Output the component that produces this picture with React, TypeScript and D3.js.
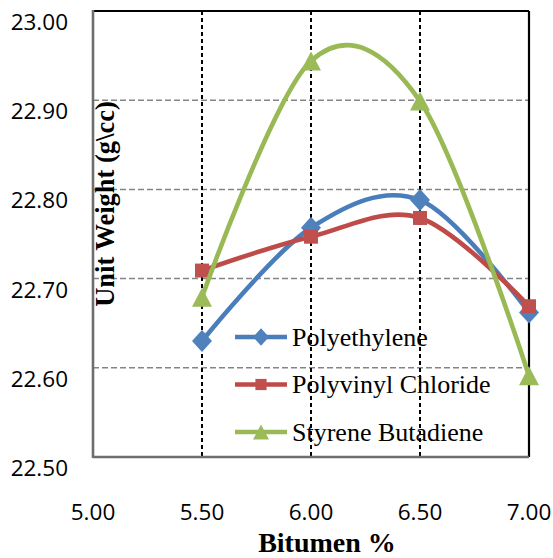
import React from "react";
import * as d3 from "d3";

const bitumen = [5.5, 6.0, 6.5, 7.0];
const polyethylene = [22.63, 22.757, 22.788, 22.662];
const polyvinylChloride = [22.709, 22.747, 22.768, 22.669];
const styreneButadiene = [22.679, 22.944, 22.899, 22.591];
const seriesNames = ["Polyethylene", "Polyvinyl Chloride", "Styrene Butadiene"];
const xTicks = [5.0, 5.5, 6.0, 6.5, 7.0];
const yTicks = [22.5, 22.6, 22.7, 22.8, 22.9, 23.0];

const W = 553;
const H = 558;
const L = 93, R = 529, T = 11, B = 457;

const colors = ["#4A7EBB", "#BE4B48", "#98B954"];
const markerFill = ["#4F81BD", "#C0504D", "#9BBB59"];
const markers = ["diamond", "square", "triangle"];

function Marker({ type, cx, cy, fill, scale = 1 }: any) {
  if (type === "diamond") {
    const w = 10 * scale, h = 11 * scale;
    return <path d={`M${cx},${cy - h}L${cx + w},${cy}L${cx},${cy + h}L${cx - w},${cy}Z`} fill={fill} />;
  }
  if (type === "square") {
    const s = 7 * scale;
    return <rect x={cx - s} y={cy - s} width={2 * s} height={2 * s} fill={fill} />;
  }
  const w = 10 * scale, h = 9.5 * scale;
  return <path d={`M${cx},${cy - h}L${cx + w},${cy + h}L${cx - w},${cy + h}Z`} fill={fill} />;
}

export default function App() {
  const x = d3.scaleLinear().domain([5, 7]).range([L, R]);
  const y = d3.scaleLinear().domain([22.5, 23]).range([B, T]);
  const data = [polyethylene, polyvinylChloride, styreneButadiene];
  const line = d3
    .line<number>()
    .x((_, i) => x(bitumen[i]))
    .y((d) => y(d))
    .curve(d3.curveCardinal.tension(0));

  const legendY = [337, 384.5, 432];

  return (
    <svg width={W} height={H} style={{ position: "absolute", left: 0, top: 0, background: "#fff" }}>
      <rect x={0} y={0} width={W} height={H} fill="#fff" />
      {/* horizontal gridlines */}
      {yTicks.filter((t) => t > 22.55 && t < 22.95).map((t) => (
        <line key={"h" + t} x1={L} x2={R} y1={y(t)} y2={y(t)} stroke="#858585" strokeWidth={1.5} strokeDasharray="6,3" />
      ))}
      {/* vertical gridlines */}
      {xTicks.filter((t) => t > 5.1 && t < 6.9).map((t) => (
        <line key={"v" + t} x1={x(t)} x2={x(t)} y1={T} y2={B} stroke="#000" strokeWidth={2} strokeDasharray="4,3" />
      ))}
      {/* frame */}
      <line x1={L} x2={R} y1={T} y2={T} stroke="#000" strokeWidth={2.2} />
      <line x1={R} x2={R} y1={T} y2={B} stroke="#000" strokeWidth={2.2} />
      <line x1={L} x2={L} y1={T - 1} y2={B + 1} stroke="#6e6e6e" strokeWidth={2.6} />
      <line x1={L} x2={R} y1={B} y2={B} stroke="#6e6e6e" strokeWidth={2.6} />

      {/* y tick labels */}
      {yTicks.map((t) => (
        <text key={"yt" + t} x={68} y={y(t) + 19} textAnchor="end" fontFamily="'Open Sans'" fontSize={22.5} fill="#000">
          {t.toFixed(2)}
        </text>
      ))}
      {/* x tick labels */}
      {xTicks.map((t) => (
        <text key={"xt" + t} x={x(t)} y={520} textAnchor="middle" fontFamily="'Open Sans'" fontSize={22.5} fill="#000">
          {t.toFixed(2)}
        </text>
      ))}

      {/* series */}
      {data.map((vals, si) => (
        <g key={"s" + si}>
          <path d={line(vals) || ""} fill="none" stroke={colors[si]} strokeWidth={4.6} strokeLinejoin="round" />
          {vals.map((v, i) => (
            <Marker key={i} type={markers[si]} cx={x(bitumen[i])} cy={y(v)} fill={markerFill[si]} />
          ))}
        </g>
      ))}

      {/* axis titles */}
      <text
        transform={`translate(114,204) rotate(-90)`}
        textAnchor="middle"
        fontFamily="'Liberation Serif', 'Times New Roman', serif"
        fontWeight="bold"
        fontSize={26.5}
        fill="#000"
      >
        Unit Weight (g\cc)
      </text>
      <text x={327} y={552} textAnchor="middle" fontFamily="'Liberation Serif', 'Times New Roman', serif" fontWeight="bold" fontSize={28} fill="#000">
        Bitumen %
      </text>

      {/* legend */}
      {seriesNames.map((n, i) => (
        <g key={"lg" + i}>
          <line x1={235} x2={287} y1={legendY[i]} y2={legendY[i]} stroke={colors[i]} strokeWidth={4.6} />
          <Marker type={markers[i]} cx={261} cy={legendY[i]} fill={markerFill[i]} scale={0.8} />
          <text x={292} y={legendY[i] + 8.5} fontFamily="'Liberation Serif', 'Times New Roman', serif" fontSize={26} fill="#000">
            {n}
          </text>
        </g>
      ))}
    </svg>
  );
}
